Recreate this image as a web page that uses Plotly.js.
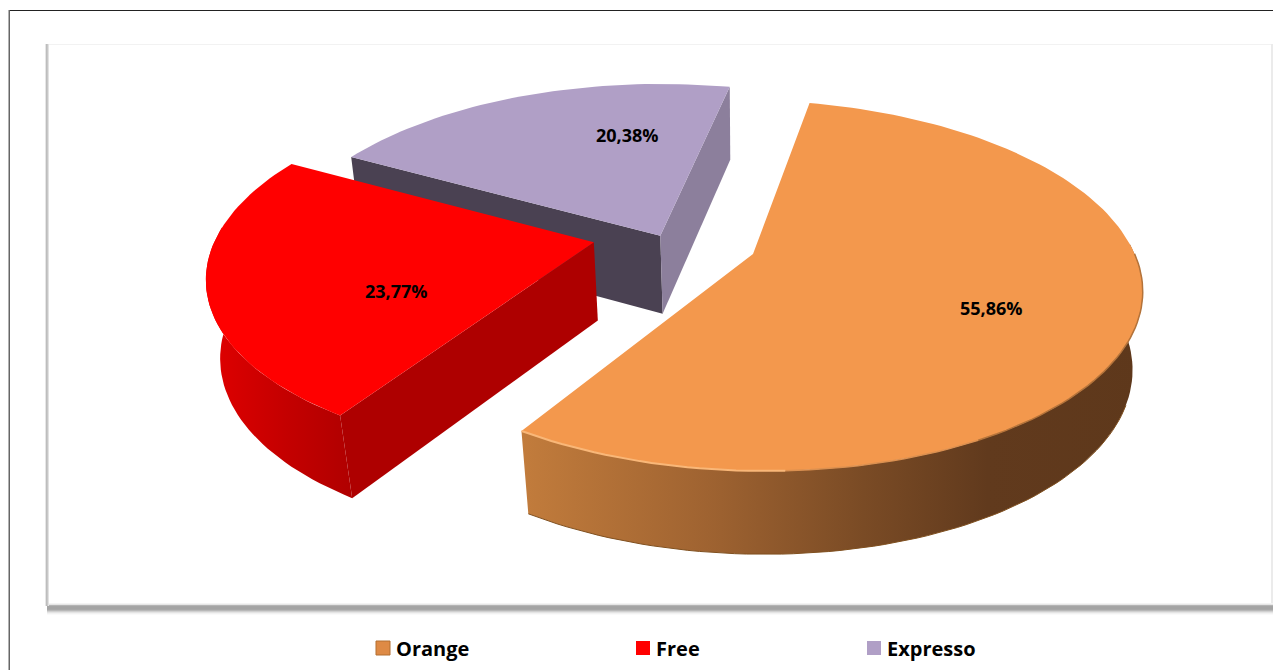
<!DOCTYPE html>
<html>
<head>
<meta charset="utf-8">
<script src="https://cdn.plot.ly/plotly-3.0.1.min.js"></script>
<style>html,body{margin:0;padding:0;background:#fff;overflow:hidden}#chart{width:1273px;height:670px}</style>
</head>
<body>
<div id="chart"></div>
<script>
// Chart values
const categories = ['Orange', 'Free', 'Expresso'];
const shares = [55.86, 23.77, 20.38];
const topColors = ['#F3984D', '#FF0000', '#B09FC6'];
const legendColors = ['#DE8A45', '#FF0000', '#B09FC6'];

// Pie look (exploded offsets in the disc plane, start angle, projection)
const startDeg = 9.9;
const pulls = [[0, 0], [-0.416, -0.052], [-0.244, -0.095]];
const discScale = [[0.995, 1], [0.985, 1], [1, 1.02]];
const view = {cx: 753, cy: 254, R: 386, A: 180, B: 80, k: 0.17, q: 0.026, skew: 6};

function project(u, v, z) {
  const s = 1 / (1 - view.k * v + view.q * z);
  return [view.cx + view.R * u * s,
          view.cy + view.A * v * s + view.B * z * Math.pow(s, 0.75) + view.skew * u * s];
}
function onDisc(i, deg, r) {
  const a = deg * Math.PI / 180;
  return [pulls[i][0] + discScale[i][0] * r * Math.sin(a),
          pulls[i][1] - discScale[i][1] * r * Math.cos(a)];
}
function rimPath(i, from, to, z) {
  const n = Math.max(2, Math.round(Math.abs(to - from) / 1.5));
  const pts = [];
  for (let j = 0; j <= n; j++) {
    const p = onDisc(i, from + (to - from) * j / n, 1);
    pts.push(project(p[0], p[1], z));
  }
  return pts;
}
const bounds = [];
let acc = startDeg;
shares.forEach(v => { const e = acc + v * 3.6; bounds.push([acc, e]); acc = e; });

function polygon(pts, color, extra) {
  return Object.assign({
    type: 'scatter', mode: 'lines', x: pts.map(p => p[0]), y: pts.map(p => p[1]),
    fill: 'toself', fillcolor: color, line: {width: 0, color: color},
    hoverinfo: 'skip', showlegend: false
  }, extra || {});
}
function edgeLine(pts, color, width) {
  return {type: 'scatter', mode: 'lines', x: pts.map(p => p[0]), y: pts.map(p => p[1]),
    line: {color: color, width: width, shape: 'linear'}, hoverinfo: 'skip', showlegend: false};
}
function rimWall(i, from, to, stops) {
  const pts = rimPath(i, from, to, 0).concat(rimPath(i, to, from, 1));
  return polygon(pts, stops[0][1], {fillgradient: {type: 'horizontal', colorscale: stops}});
}
function cutWall(i, deg, color) {
  const o = pulls[i], e = onDisc(i, deg, 1);
  return polygon([project(o[0], o[1], 0), project(e[0], e[1], 0), project(e[0], e[1], 1), project(o[0], o[1], 1)], color);
}
function topFace(i) {
  const o = project(pulls[i][0], pulls[i][1], 0);
  return polygon([o].concat(rimPath(i, bounds[i][0], bounds[i][1], 0)), topColors[i],
    {name: categories[i], hoverinfo: 'name'});
}

const traces = [
  // Expresso (back)
  cutWall(2, bounds[2][0], '#4A4152'),
  cutWall(2, bounds[2][1], '#8C7F9C'),
  topFace(2),
  // Free
  rimWall(1, bounds[1][0], bounds[1][0] + 62, [[0, '#E10000'], [0.55, '#C40000'], [1, '#B00000']]),
  cutWall(1, bounds[1][0], '#AE0000'),
  topFace(1),
  // Orange (front)
  rimWall(0, 85, bounds[0][1], [[0, '#C27C3C'], [0.3, '#9F6331'], [0.55, '#7A4B25'], [0.75, '#613A1D'], [1, '#5E381B']]),
  edgeLine(rimPath(0, 110, bounds[0][1], 1), '#80501F', 1),
  topFace(0),
  edgeLine(rimPath(0, 88, 150, 0), '#B4733A', 1.5),
  edgeLine(rimPath(0, 150, 176, 0), '#DB9050', 1.5),
  edgeLine(rimPath(0, 176, bounds[0][1], 0), '#F9B778', 2)
];

// Legend entries, one legend each so that they can sit at the original spacing
categories.forEach((c, i) => {
  traces.push({
    type: 'scatter', mode: 'markers', x: [null], y: [null], name: c,
    legend: i === 0 ? 'legend' : 'legend' + (i + 1),
    marker: {symbol: 'square', size: 14, color: legendColors[i],
             line: {width: i === 0 ? 1 : 0, color: '#B36E30'}},
    hoverinfo: 'skip'
  });
});

// Value labels
const labelRadius = [0.66, 0.55, 0.6];
const labelShift = [[-9, -7], [11, -24], [53, 12]];
const annotations = categories.map((c, i) => {
  const p = onDisc(i, (bounds[i][0] + bounds[i][1]) / 2, labelRadius[i]);
  const q = project(p[0], p[1], 0);
  return {x: q[0], y: q[1], xref: 'x', yref: 'y', showarrow: false,
    text: shares[i].toFixed(2).replace('.', ',') + '%',
    xshift: labelShift[i][0], yshift: labelShift[i][1],
    font: {family: 'Open Sans, sans-serif', size: 18, color: '#000', weight: 700}};
});

// Frame and panel shadow
const shapes = [];
function rect(x0, y0, x1, y1, color) {
  shapes.push({type: 'rect', xref: 'x', yref: 'y', x0, y0, x1, y1, layer: 'below',
    fillcolor: color, line: {width: 0}});
}
const shadeBottom = ['#f4f4f4', '#e6e6e6', '#b4b4b4', '#a5a5a5', '#a4a4a4', '#a4a4a4', '#a8a8a8', '#b8b8b8', '#d0d0d0', '#e4e4e4', '#f2f2f2', '#fafafa'];
shadeBottom.forEach((c, i) => rect(47, 603 + i, 1273, 604 + i, c));
const shadeLeft = ['#e6e6e6', '#bdbdbd', '#c8c8c8', '#e2e2e2'];
shadeLeft.forEach((c, i) => rect(45 + i, 44, 46 + i, 606, c));
rect(49, 44, 1273, 45, '#f2f2f2');
rect(1271, 44, 1273, 603, '#ebebeb');
rect(9, 10, 1273, 11, '#222222');
rect(8.5, 10, 10, 670, '#666666');

const legendBase = {
  orientation: 'h', xanchor: 'left', yanchor: 'middle', bgcolor: 'rgba(0,0,0,0)',
  font: {family: 'Open Sans, sans-serif', size: 20, color: '#000', weight: 700},
  itemclick: false, itemdoubleclick: false, tracegroupgap: 0
};
const legendY = 1 - 648 / 670;
const layout = {
  width: 1273, height: 670,
  margin: {l: 0, r: 0, t: 0, b: 0},
  paper_bgcolor: '#fff', plot_bgcolor: 'rgba(0,0,0,0)',
  xaxis: {range: [0, 1273], visible: false, fixedrange: true},
  yaxis: {range: [670, 0], visible: false, fixedrange: true},
  showlegend: true,
  legend: Object.assign({}, legendBase, {x: 356 / 1273, y: legendY}),
  legend2: Object.assign({}, legendBase, {x: 616 / 1273, y: legendY}),
  legend3: Object.assign({}, legendBase, {x: 847 / 1273, y: legendY}),
  annotations, shapes
};
Plotly.newPlot('chart', traces, layout, {displayModeBar: false}).then(gd => {
  // Tighter gap between legend swatch and its text than the library's fixed item width
  gd.querySelectorAll('g.legendsymbols').forEach(g => g.setAttribute('transform', 'translate(7,0)'));
});
</script>
</body>
</html>
